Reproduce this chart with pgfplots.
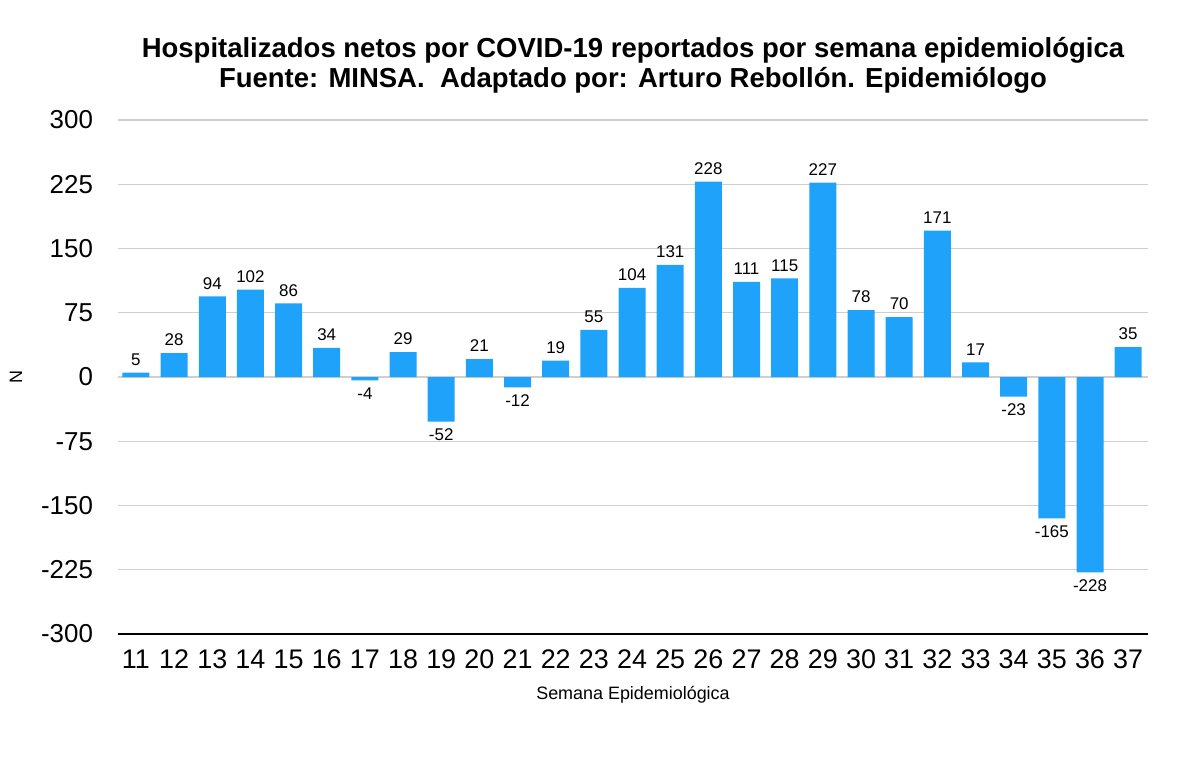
\documentclass[border=0pt]{standalone}
\usepackage{pgfplots}
\pgfplotsset{compat=1.18}
\usepackage{fontspec}
\setmainfont{Liberation Sans}
\definecolor{barblue}{HTML}{1EA2FA}
\definecolor{gridgray}{HTML}{CFCFCF}
\begin{document}
\begin{tikzpicture}
\useasboundingbox (-59bp,-62bp) rectangle (541bp,317bp);
\begin{axis}[
    at={(0,0)}, anchor=south west,
    scale only axis,
    width=515bp, height=257bp,
    ybar, bar width=13.5bp,
    ymin=-300, ymax=300,
    ytick={-300,-225,...,300},
    xmin=-0.47, xmax=26.52,
    xtick={0,...,26},
    xticklabels={11,12,13,14,15,16,17,18,19,20,21,22,23,24,25,26,27,28,29,30,31,32,33,34,35,36,37},
    /pgf/number format/assume math mode=true,
    xticklabel style={font=\fontsize{13.5}{16}\selectfont, yshift=-4.5bp},
    yticklabel style={font=\fontsize{13}{16}\selectfont, xshift=-9bp},
    major tick length=0pt,
    ymajorgrids, grid style={gridgray, line width=0.6pt},
    axis x line*=bottom, axis y line*=left,
    x axis line style={black, line width=1.4pt, -},
    y axis line style={draw=none},
    nodes near coords,
    nodes near coords style={font=\fontsize{8.5}{10}\selectfont, text=black},
    xlabel={Semana Epidemiológica},
    xlabel style={font=\fontsize{9}{11}\selectfont, yshift=-2bp},
    title={\bfseries Hospitalizados netos por COVID-19 reportados por semana epidemiológica\\\bfseries Fuente: MINSA.\ \ Adaptado por: Arturo Rebollón. Epidemiólogo},
    title style={font=\fontsize{13.8}{15}\selectfont, align=center, yshift=4bp},
]
\addplot[fill=barblue, draw=none] coordinates {
(0,5) (1,28) (2,94) (3,102) (4,86) (5,34) (6,-4) (7,29) (8,-52) (9,21)
(10,-12) (11,19) (12,55) (13,104) (14,131) (15,228) (16,111) (17,115) (18,227) (19,78)
(20,70) (21,171) (22,17) (23,-23) (24,-165) (25,-228) (26,35)
};
\end{axis}
\node[rotate=90, font=\fontsize{9}{11}\selectfont] at (-51bp,128.5bp) {N};
\end{tikzpicture}
\end{document}
